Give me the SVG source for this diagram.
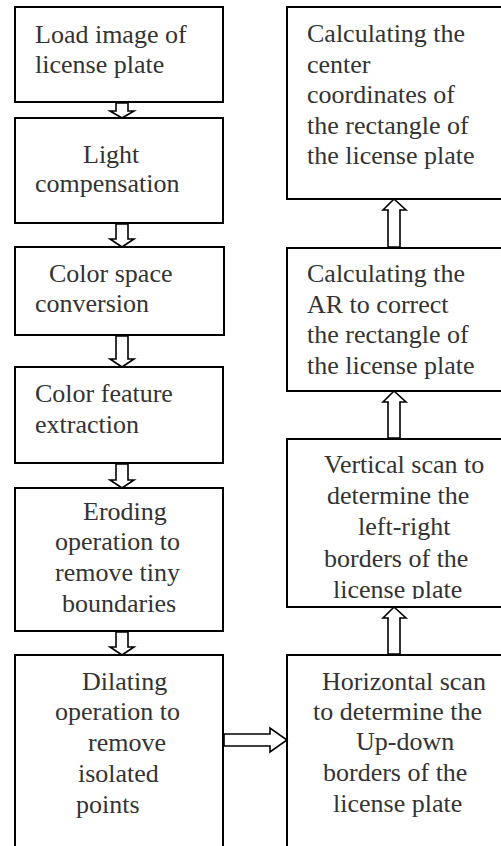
<svg xmlns="http://www.w3.org/2000/svg" width="501" height="846" viewBox="0 0 501 846" font-family="Liberation Serif, DejaVu Serif, serif" font-size="26" fill="#333">
<style>
.box{fill:#fff;stroke:#000;stroke-width:2}
.arr{fill:#fff;stroke:#000;stroke-width:1.6;stroke-linejoin:miter}
</style>
<defs>
<clipPath id="c9"><rect x="287" y="439" width="230" height="160"/></clipPath>
</defs>
<g id="n1"><rect class="box" x="15" y="7" width="208" height="95"/>
<text x="35" y="43">Load image of</text><text x="35" y="73">license plate</text></g>
<g id="n2"><rect class="box" x="15" y="118" width="208" height="105"/>
<text x="83" y="163">Light</text><text x="35" y="192">compensation</text></g>
<g id="n3"><rect class="box" x="15" y="247" width="209" height="88"/>
<text x="49" y="282">Color space</text><text x="35" y="312">conversion</text></g>
<g id="n4"><rect class="box" x="15" y="367" width="208" height="96"/>
<text x="35" y="402">Color feature</text><text x="35" y="433">extraction</text></g>
<g id="n5"><rect class="box" x="15" y="488" width="208" height="143"/>
<text x="83" y="520">Eroding</text><text x="55" y="550">operation to</text><text x="55" y="581">remove tiny</text><text x="62" y="612">boundaries</text></g>
<g id="n6"><rect class="box" x="15" y="655" width="208" height="220"/>
<text x="82" y="690">Dilating</text><text x="55" y="720">operation to</text><text x="88" y="751">remove</text><text x="78" y="782">isolated</text><text x="76" y="813">points</text></g>
<g id="n7"><rect class="box" x="287" y="655" width="230" height="220"/>
<text x="322" y="690">Horizontal scan</text><text x="313" y="720">to determine the</text><text x="356" y="750">Up-down</text><text x="323" y="781">borders of the</text><text x="333" y="812">license plate</text></g>
<g id="n8"><rect class="box" x="287" y="439" width="230" height="168"/>
<g clip-path="url(#c9)"><text x="324" y="473">Vertical scan to</text><text x="327" y="504">determine the</text><text x="358" y="535">left-right</text><text x="324" y="567">borders of the</text><text x="333" y="598">license plate</text></g></g>
<g id="n9"><rect class="box" x="287" y="248" width="230" height="143"/>
<text x="307" y="282">Calculating the</text><text x="307" y="313">AR to correct</text><text x="307" y="343">the rectangle of</text><text x="307" y="374">the license plate</text></g>
<g id="n10"><rect class="box" x="287" y="7" width="230" height="192"/>
<text x="307" y="42">Calculating the</text><text x="307" y="73">center</text><text x="307" y="103">coordinates of</text><text x="307" y="134">the rectangle of</text><text x="307" y="164">the license plate</text></g>
<g id="connectors">
<polygon class="arr" points="116,103 128,103 128,111 134,111 122,118 110,111 116,111"/>
<polygon class="arr" points="116,224 128,224 128,239 134,239 122,247 110,239 116,239"/>
<polygon class="arr" points="116,336 128,336 128,359 134,359 122,367 110,359 116,359"/>
<polygon class="arr" points="116,464 128,464 128,480 134,480 122,488 110,480 116,480"/>
<polygon class="arr" points="116,632 128,632 128,647 134,647 122,655 110,647 116,647"/>
<polygon class="arr" points="224,734 270,734 270,728 287,740 270,752 270,746 224,746"/>
<polygon class="arr" points="388,654 400,654 400,618 406,618 394,607 383,618 388,618"/>
<polygon class="arr" points="388,438 400,438 400,402 406,402 394,391 383,402 388,402"/>
<polygon class="arr" points="388,247 400,247 400,210 406,210 394,199 383,210 388,210"/>
</g>
</svg>
